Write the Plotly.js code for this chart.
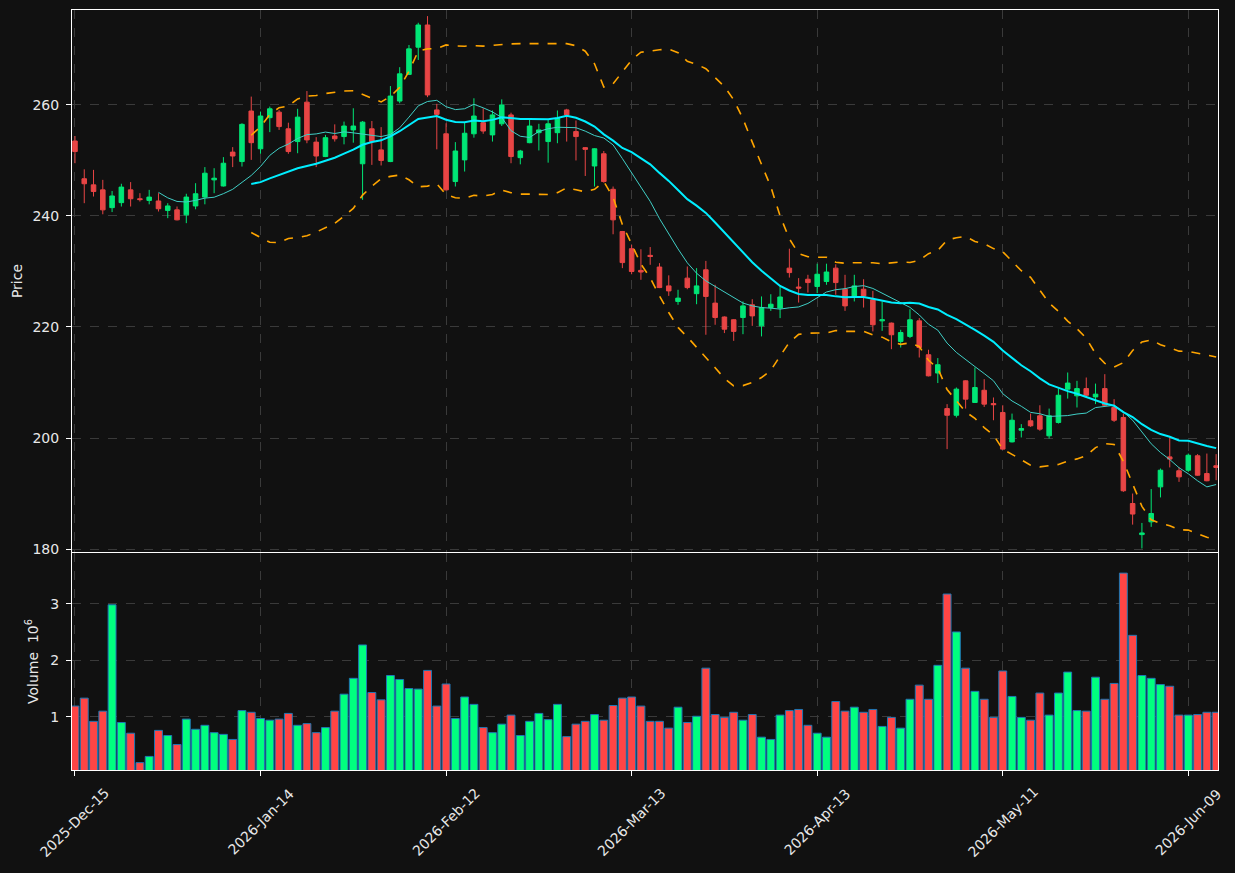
<!DOCTYPE html>
<html><head><meta charset="utf-8">
<script src="https://cdn.plot.ly/plotly-3.0.1.min.js"></script>
<style>html,body{margin:0;padding:0;background:#111111;}#chart{width:1235px;height:873px;}</style>
</head><body><div id="chart"></div>
<script>
const dates = [
"2025-12-15","2025-12-16","2025-12-17","2025-12-18","2025-12-19","2025-12-22","2025-12-23","2025-12-24","2025-12-26","2025-12-29","2025-12-30","2025-12-31",
"2026-01-02","2026-01-05","2026-01-06","2026-01-07","2026-01-08","2026-01-09","2026-01-12","2026-01-13","2026-01-14","2026-01-15","2026-01-16","2026-01-20","2026-01-21","2026-01-22","2026-01-23","2026-01-26","2026-01-27","2026-01-28","2026-01-29","2026-01-30",
"2026-02-02","2026-02-03","2026-02-04","2026-02-05","2026-02-06","2026-02-09","2026-02-10","2026-02-11","2026-02-12","2026-02-13","2026-02-17","2026-02-18","2026-02-19","2026-02-20","2026-02-23","2026-02-24","2026-02-25","2026-02-26","2026-02-27",
"2026-03-02","2026-03-03","2026-03-04","2026-03-05","2026-03-06","2026-03-09","2026-03-10","2026-03-11","2026-03-12","2026-03-13","2026-03-16","2026-03-17","2026-03-18","2026-03-19","2026-03-20","2026-03-23","2026-03-24","2026-03-25","2026-03-26","2026-03-27","2026-03-30","2026-03-31",
"2026-04-01","2026-04-02","2026-04-06","2026-04-07","2026-04-08","2026-04-09","2026-04-10","2026-04-13","2026-04-14","2026-04-15","2026-04-16","2026-04-17","2026-04-20","2026-04-21","2026-04-22","2026-04-23","2026-04-24","2026-04-27","2026-04-28","2026-04-29","2026-04-30",
"2026-05-01","2026-05-04","2026-05-05","2026-05-06","2026-05-07","2026-05-08","2026-05-11","2026-05-12","2026-05-13","2026-05-14","2026-05-15","2026-05-18","2026-05-19","2026-05-20","2026-05-21","2026-05-22","2026-05-26","2026-05-27","2026-05-28","2026-05-29",
"2026-06-01","2026-06-02","2026-06-03","2026-06-04","2026-06-05","2026-06-08","2026-06-09","2026-06-10","2026-06-11","2026-06-12"];

const opens = [253.5,246.7,245.6,244.7,241.5,242.4,244.7,243.1,242.8,242.7,241.0,241.1,240.2,241.8,243.4,246.5,245.4,251.5,249.8,258.9,
252.1,257.7,258.7,255.7,253.4,260.5,253.3,250.7,254.4,254.3,255.5,249.4,255.7,251.9,249.8,260.7,265.5,270.4,274.4,259.1,
254.8,246.2,250.1,254.8,256.8,254.6,256.6,258.2,250.5,253.2,255.0,253.4,255.0,259.1,255.2,252.3,249.0,251.2,244.8,237.2,
234.1,230.2,232.9,230.8,227.4,224.6,228.8,226.0,230.3,224.3,221.8,221.3,221.7,224.0,220.2,223.5,223.4,230.6,227.2,228.6,
227.3,228.2,230.6,226.8,225.5,226.8,224.9,221.1,220.7,217.4,218.3,221.1,215.0,211.7,205.3,204.1,210.3,206.4,208.6,206.2,
204.6,199.3,201.4,203.1,204.0,200.4,202.8,208.8,207.6,208.9,207.4,208.9,205.5,203.7,188.2,182.6,184.9,191.2,196.6,194.1,
194.2,196.8,193.6,195.0];
const highs = [254.4,248.4,248.3,246.5,244.5,245.8,246.1,244.1,244.7,244.1,242.3,241.7,244.0,245.9,248.8,248.6,250.6,252.4,256.7,261.5,
258.8,259.7,259.1,256.8,259.3,262.5,254.2,254.6,256.5,257.0,259.4,257.1,257.1,256.0,263.4,266.8,270.8,274.8,276.0,260.2,
256.7,253.3,256.8,261.2,259.4,259.0,261.0,258.6,251.9,257.4,256.6,257.4,259.0,259.3,257.2,252.4,252.2,251.7,245.3,237.3,
234.8,234.0,234.4,231.5,229.3,226.7,230.9,230.6,231.9,227.6,221.9,221.4,224.6,225.0,225.5,225.9,227.3,234.1,228.8,229.4,
231.4,231.4,231.3,229.4,229.4,228.6,226.5,224.6,220.8,219.5,223.2,221.6,215.9,214.4,206.1,209.1,210.4,212.7,210.6,207.3,
205.9,204.4,202.5,204.4,205.9,205.3,208.9,211.8,210.3,210.9,209.8,211.5,207.0,204.4,190.0,184.7,190.8,194.5,200.1,194.7,
197.2,197.1,197.2,197.1];
const lows = [249.5,242.3,243.5,240.3,240.7,241.7,241.7,242.6,242.1,240.8,239.6,239.2,238.7,241.2,242.1,244.1,245.3,248.8,248.9,250.1,
251.2,255.1,255.5,251.2,251.3,253.1,248.8,250.6,253.4,252.9,253.2,242.9,249.2,249.1,249.7,260.3,265.4,268.1,261.4,252.0,
244.6,245.3,248.0,254.1,254.8,253.4,256.2,249.5,249.3,253.1,251.8,249.6,253.1,253.4,250.0,247.2,245.3,246.0,236.7,230.6,
229.5,228.5,231.2,227.0,225.6,224.0,226.8,224.1,218.6,220.4,218.9,217.5,218.7,220.2,218.3,222.9,221.6,228.9,224.4,226.2,
226.1,227.6,225.8,222.9,224.6,223.5,219.2,219.3,216.0,216.3,218.0,214.5,211.1,209.9,198.0,203.7,205.3,206.3,205.6,203.2,
197.9,199.2,200.1,202.0,201.3,199.9,202.6,207.1,205.5,207.3,206.1,205.8,202.9,190.3,184.4,180.1,184.0,189.3,194.7,192.1,
193.9,193.2,192.2,192.4];
const closes = [251.6,245.8,244.4,241.1,243.6,245.2,243.1,242.95,243.4,241.3,241.8,239.3,243.4,244.0,247.7,246.8,249.5,250.8,256.5,253.2,
258.0,259.3,256.1,251.6,257.8,253.7,250.8,254.1,253.9,256.2,256.2,256.9,253.4,250.0,261.6,265.6,270.1,274.4,261.8,258.3,
244.7,251.7,254.9,258.0,255.3,258.2,260.0,250.7,251.7,256.2,255.5,256.6,257.6,258.2,254.3,252.0,252.1,246.2,239.3,231.6,
230.0,229.9,232.7,227.1,226.5,225.2,227.1,227.4,225.5,221.7,219.6,219.2,223.8,222.0,223.5,224.1,225.4,229.8,227.0,228.0,
229.5,229.9,228.0,223.8,227.4,225.6,220.4,221.3,218.6,219.0,221.3,216.3,211.2,213.2,204.1,208.8,207.0,209.1,206.1,206.0,
198.0,203.2,201.7,202.2,201.6,204.0,207.7,209.9,208.9,207.7,207.9,205.9,203.2,190.5,186.3,182.9,186.4,194.2,196.2,193.0,
196.9,193.3,192.3,194.7];
// volume in millions
const volumes = [1.19,1.33,0.92,1.10,2.98,0.90,0.71,0.19,0.30,0.76,0.67,0.51,0.96,0.78,0.85,0.72,0.69,0.60,1.11,1.08,
0.97,0.94,0.96,1.06,0.85,0.88,0.72,0.81,1.10,1.40,1.68,2.27,1.43,1.30,1.73,1.66,1.50,1.49,1.82,1.19,
1.58,0.97,1.35,1.22,0.81,0.72,0.87,1.03,0.67,0.92,1.06,0.95,1.22,0.65,0.87,0.92,1.04,0.94,1.20,1.33,
1.35,1.19,0.92,0.92,0.80,1.17,0.90,1.01,1.86,1.04,0.99,1.08,0.94,1.04,0.64,0.60,1.03,1.11,1.13,0.85,
0.71,0.64,1.27,1.10,1.17,1.08,1.13,0.83,0.99,0.80,1.31,1.56,1.31,1.91,3.17,2.50,1.86,1.45,1.31,0.99,
1.81,1.36,0.99,0.94,1.42,1.03,1.42,1.79,1.11,1.10,1.70,1.31,1.59,3.54,2.44,1.73,1.68,1.57,1.54,1.03,
1.03,1.04,1.08,1.08];

const tickDates = ["2025-12-15","2026-01-14","2026-02-12","2026-03-13","2026-04-13","2026-05-11","2026-06-09"];
const tickLabels = ["2025-Dec-15","2026-Jan-14","2026-Feb-12","2026-Mar-13","2026-Apr-13","2026-May-11","2026-Jun-09"];
const priceTicks = [180,200,220,240,260];
const volTicks = [1,2,3];

function sma(a, n) {
  return a.map((_, i) => {
    if (i < n - 1) return null;
    let s = 0; for (let j = i - n + 1; j <= i; j++) s += a[j];
    return s / n;
  });
}
function stdev(a, n) {
  const m = sma(a, n);
  return a.map((_, i) => {
    if (i < n - 1) return null;
    let s = 0; for (let j = i - n + 1; j <= i; j++) s += (a[j] - m[i]) ** 2;
    return Math.sqrt(s / n);
  });
}
const ma10 = sma(closes, 10);
const ma20 = sma(closes, 20);
const sd20 = stdev(closes, 20);
const bbUp = ma20.map((m, i) => m === null ? null : m + 2 * sd20[i]);
const bbLo = ma20.map((m, i) => m === null ? null : m - 2 * sd20[i]);

const UP = '#00e676', DN = '#e84545';
const volColors = closes.map((c, i) => c >= opens[i] ? '#00ff7f' : '#ff4545');

const traces = [
  {type:'candlestick', x:dates, open:opens, high:highs, low:lows, close:closes, xaxis:'x', yaxis:'y',
   increasing:{line:{color:UP, width:1}, fillcolor:UP},
   decreasing:{line:{color:DN, width:1}, fillcolor:DN}, whiskerwidth:0, hoverinfo:'skip'},
  {type:'scatter', mode:'lines', x:dates, y:ma10, xaxis:'x', yaxis:'y', line:{color:'#40cfc6', width:1}, hoverinfo:'skip'},
  {type:'scatter', mode:'lines', x:dates, y:ma20, xaxis:'x', yaxis:'y', line:{color:'#00eeff', width:2}, hoverinfo:'skip'},
  {type:'scatter', mode:'lines', x:dates, y:bbUp, xaxis:'x', yaxis:'y', line:{color:'#ffa500', width:1.6, dash:'dash'}, hoverinfo:'skip'},
  {type:'scatter', mode:'lines', x:dates, y:bbLo, xaxis:'x', yaxis:'y', line:{color:'#ffa500', width:1.6, dash:'dash'}, hoverinfo:'skip'},
  {type:'bar', x:dates, y:volumes, xaxis:'x2', yaxis:'y2', width:0.85,
   marker:{color:volColors, line:{color:'#1f77b4', width:1}}, hoverinfo:'skip'}
];

const gridC = '#3a3a3a', txtC = '#e8e8e8';
const font = {family:'DejaVu Sans, sans-serif', size:14, color:txtC};
const xr = [-0.32, 123.2];
const annotations = tickDates.map((d, i) => ({
  x: d, xref:'x2', y: -0.0684, yref:'paper', text: tickLabels[i], textangle:-45,
  showarrow:false, xanchor:'center', yanchor:'middle', font:{family:'DejaVu Sans, sans-serif', size:14, color:txtC}
}));
const layout = {
  width:1235, height:873, paper_bgcolor:'#111111', plot_bgcolor:'#111111',
  margin:{l:72, r:17, t:10, b:103}, showlegend:false, font:font, hovermode:false,
  annotations: annotations,
  xaxis:{type:'category', domain:[0,1], anchor:'y', range:xr, rangeslider:{visible:false},
    tickvals:tickDates, ticktext:tickLabels, showticklabels:false, ticks:'',
    showgrid:true, gridcolor:gridC, griddash:'dash', gridwidth:1,
    showline:true, mirror:true, linecolor:'#ffffff', linewidth:1, zeroline:false},
  yaxis:{domain:[0.2868,1], anchor:'x', range:[179.46,277.1], tickvals:priceTicks,
    ticks:'outside', ticklen:5, tickcolor:'#ffffff', ticklabelstandoff:4, showgrid:true, gridcolor:gridC, griddash:'dash',
    showline:true, mirror:true, linecolor:'#ffffff', linewidth:1, zeroline:false,
    title:{text:'Price', font:{size:14, color:txtC}, standoff:6}},
  xaxis2:{type:'category', domain:[0,1], anchor:'y2', matches:'x', range:xr,
    tickvals:tickDates, ticktext:tickLabels, showticklabels:false, ticks:'outside', ticklen:5, tickcolor:'#ffffff',
    showgrid:true, gridcolor:gridC, griddash:'dash', gridwidth:1,
    showline:true, mirror:true, linecolor:'#ffffff', linewidth:1, zeroline:false},
  yaxis2:{domain:[0,0.2855], anchor:'x2', range:[0.06,3.895], tickvals:volTicks,
    ticks:'outside', ticklen:5, tickcolor:'#ffffff', ticklabelstandoff:4, showgrid:true, gridcolor:gridC, griddash:'dash',
    showline:true, mirror:true, linecolor:'#ffffff', linewidth:1, zeroline:false,
    title:{text:'Volume  10<sup>6</sup>', font:{size:14, color:txtC}, standoff:8}}
};
Plotly.newPlot('chart', traces, layout, {displayModeBar:false, staticPlot:true});
</script></body></html>
